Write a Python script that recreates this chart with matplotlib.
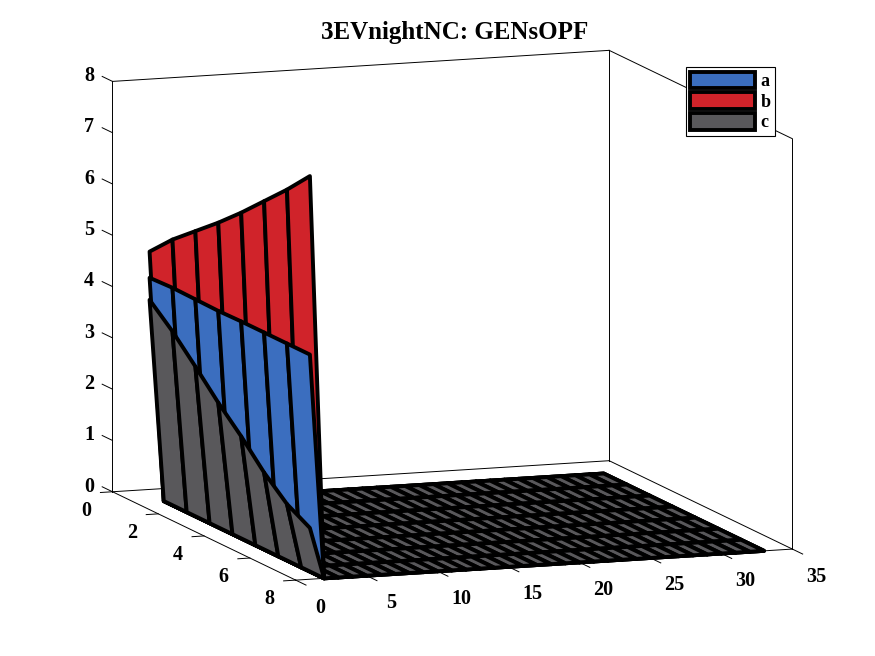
import numpy as np
import matplotlib
matplotlib.use('Agg')
import matplotlib.pyplot as plt
from matplotlib.patches import Patch
from mpl_toolkits.mplot3d import proj3d

# grid: 33 time steps along x, 8 units along y
steps = np.arange(1, 34)
units = np.arange(1, 9)

names = ['a', 'b', 'c']
colors = ['#3b6ebf', '#d0232a', '#59585b']

# only the first step carries a value, every later step is zero
first_step = {
    'a': [4.37, 4.39, 4.38, 4.37, 4.38, 4.38, 4.38, 4.38],
    'b': [4.88, 5.33, 5.71, 6.09, 6.50, 6.94, 7.38, 7.86],
    'c': [3.94, 3.54, 3.07, 2.58, 2.14, 1.65, 1.25, 1.00],
}

xticks = [0, 5, 10, 15, 20, 25, 30, 35]
yticks = [0, 2, 4, 6, 8]
zticks = [0, 1, 2, 3, 4, 5, 6, 7, 8]
title = '3EVnightNC: GENsOPF'

W, H = 875, 656
serif = ['Liberation Serif', 'DejaVu Serif']
lw_edge = 2.8

fig = plt.figure(figsize=(W / 100, H / 100), dpi=100)
ax = fig.add_axes([0.1, 0.1, 0.8, 0.8], projection='3d', proj_type='ortho',
                  computed_zorder=False)
ax.set_axis_off()
ax.set_xlim(0, 35)
ax.set_ylim(8, 0)
ax.set_zlim(0, 8)
ax.set_box_aspect((527, 540, 416))
ax.view_init(elev=10, azim=-109.8)

X, Y = np.meshgrid(steps, units)
Zs = {}
for n in names:
    Z = np.zeros((len(units), len(steps)))
    Z[:, 0] = first_step[n]
    Zs[n] = Z

# box edges (back ones only, like matlab)
x0, x1 = 0, 35
y0, y1 = 0, 8
z0, z1 = 0, 8
edges = [
    ((x0, x0), (y0, y0), (z0, z1)),
    ((x0, x1), (y0, y0), (z1, z1)),
    ((x1, x1), (y0, y0), (z0, z1)),
    ((x1, x1), (y0, y1), (z1, z1)),
    ((x1, x1), (y1, y1), (z0, z1)),
    ((x0, x1), (y0, y0), (z0, z0)),
    ((x1, x1), (y0, y1), (z0, z0)),
    ((x0, x0), (y0, y1), (z0, z0)),
    ((x0, x1), (y1, y1), (z0, z0)),
]
for ex, ey, ez in edges:
    ax.plot(ex, ey, ez, color='k', lw=0.7, zorder=1)

# tick marks, labels get placed once the projection is known
labels = []
for z in zticks:
    ax.plot([0, 0], [0, -0.45], [z, z], color='k', lw=0.7, zorder=1)
    labels.append((0, -0.8, z - 0.07, str(z), 'right'))
for y in yticks:
    ax.plot([0, -0.85], [y, y], [0, 0], color='k', lw=0.7, zorder=1)
    labels.append((-1.85, y, -0.34, str(y), 'center'))
for x in xticks:
    ax.plot([x, x], [8, 8.45], [0, 0], color='k', lw=0.7, zorder=1)
    labels.append((x, 9.05, -0.31, str(x), 'center'))

# flat part of every surface first
for i, n in enumerate(names):
    ax.plot_surface(X[:, 1:], Y[:, 1:], Zs[n][:, 1:], color=colors[i],
                    edgecolor='k', linewidth=lw_edge, shade=False, zorder=2 + i)

# the walls at the first step, tallest one is furthest back
order = sorted(range(len(names)), key=lambda i: -np.mean(first_step[names[i]]))
for k, i in enumerate(order):
    n = names[i]
    ax.plot_surface(X[:, :2], Y[:, :2], Zs[n][:, :2], color=colors[i],
                    edgecolor='k', linewidth=lw_edge, shade=False, zorder=10 + k)

fig.text(0.52, 0.9497, title, ha='center', va='center', fontsize=18,
         fontweight='bold', family=serif)

handles = [Patch(facecolor=c, edgecolor='k', linewidth=lw_edge, label=n)
           for n, c in zip(names, colors)]
leg = fig.legend(handles=handles, loc='upper right',
                 bbox_to_anchor=(775 / W, 1 - 67 / H),
                 prop={'family': serif, 'weight': 'bold', 'size': 13},
                 handlelength=3.6, handleheight=1.05, handletextpad=0.3,
                 labelspacing=0.12, borderpad=0.25, borderaxespad=0,
                 fancybox=False, framealpha=1, edgecolor='k')
leg.get_frame().set_linewidth(0.8)

# fit the 3d box onto the matlab frame
corners = np.array([[0, 0, 0], [0, 0, 8], [35, 0, 0], [35, 0, 8],
                    [35, 8, 0], [35, 8, 8]], float)
target = np.array([[113, 492], [113, 82], [609, 461], [609, 49],
                   [792, 550], [792, 138]], float)
target[:, 1] = H - target[:, 1]


def to_pixels(pts):
    pts = np.asarray(pts, float)
    px, py, _ = proj3d.proj_transform(pts[:, 0], pts[:, 1], pts[:, 2],
                                      ax.get_proj())
    return ax.transData.transform(np.column_stack([px, py]))


fig.canvas.draw()
disp = to_pixels(corners)
bb = ax.bbox
u = (disp - [bb.x0, bb.y0]) / bb.width
A, b = [], []
for (ux, uy), (tx, ty) in zip(u, target):
    A.append([1, 0, ux]); b.append(tx)
    A.append([0, 1, uy]); b.append(ty)
p0x, p0y, s = np.linalg.lstsq(np.array(A), np.array(b), rcond=None)[0]
ax.set_position([p0x / W, p0y / H, s / W, s / H])
fig.canvas.draw()

pos = to_pixels([lab[:3] for lab in labels])
for (dx, dy), lab in zip(pos, labels):
    fig.text(dx / W, dy / H, lab[3], ha=lab[4], va='center', fontsize=14.5,
             fontweight='bold', family=serif)

fig.savefig('out.png', dpi=100)
